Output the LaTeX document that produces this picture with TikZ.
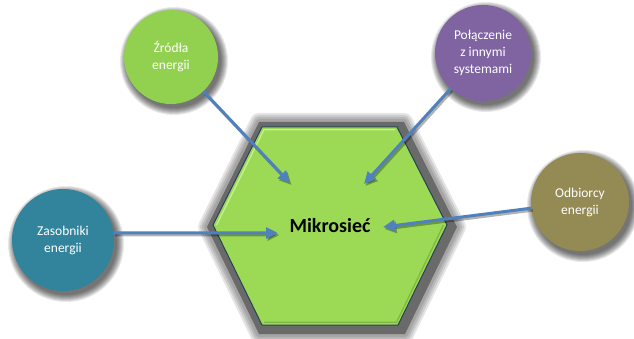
\documentclass[tikz,border=0pt]{standalone}
\usepackage{fontspec}
\setmainfont{Carlito}
\usetikzlibrary{arrows.meta}

\definecolor{hexgreen}{HTML}{9CDA56}
\definecolor{hexedge}{HTML}{26405A}
\definecolor{hexlight}{HTML}{C6EF96}
\definecolor{hexdark}{HTML}{7FB944}
\definecolor{srcgreen}{HTML}{92D050}
\definecolor{linkpurple}{HTML}{8064A2}
\definecolor{storeteal}{HTML}{31849B}
\definecolor{loadolive}{HTML}{948A54}
\definecolor{arrowblue}{HTML}{4F81BD}
\definecolor{hexshadow}{HTML}{6A6A6A}

\tikzset{
  bubble/.style={circle, inner sep=0pt, minimum size=#1, text=white, align=center,
    font=\fontsize{13.5}{17}\selectfont},
  flow/.style={draw=arrowblue, line width=3pt,
    -{Triangle[length=12pt,width=11pt]}},
  flowshadow/.style={draw=black, opacity=0.3, line width=3pt,
    -{Triangle[length=12pt,width=11pt]},
    transform canvas={xshift=1.5pt,yshift=-2pt}},
  hub/.style={font=\bfseries\fontsize{20}{24}\selectfont, text=black}
}

% blurred drop shadow behind a round bubble: x, y, radius
\newcommand\bubbleshadow[3]{%
  \foreach \k in {0,...,7}{%
    \fill[black, opacity=0.09] (#1+3,#2+4) circle[radius={(#3+7-\k)*1pt}];%
  }%
}

\begin{document}
\begin{tikzpicture}[x=1pt,y=-1pt]
\useasboundingbox (0,0) rectangle (634,339);
\fill[white] (0,0) rectangle (634,339);

% --- central hexagon with its soft shadow ---
\foreach \w in {18,14,10,6}{%
  \draw[black, opacity=0.1, line width=\w pt, line join=round]
    (207,227) -- (259,122) -- (404,122) -- (457,227) -- (405,334) -- (259,334) -- cycle;
}
\fill[hexshadow]
  (207,227) -- (259,122) -- (404,122) -- (457,227) -- (405,334) -- (259,334) -- cycle;

\filldraw[fill=hexgreen, draw=hexedge, line width=1pt, line join=miter]
  (213,225) -- (262,127) -- (397,127) -- (447,225) -- (398,325) -- (262,325) -- cycle;
% bevel highlights
\draw[hexlight, line width=1.3pt] (216.5,225) -- (264,129.7) -- (395,129.7);
\draw[hexdark, line width=1.3pt] (443.5,225) -- (396.5,322.3) -- (264,322.3);

\node[hub] (hub) at (330,226) {Mikrosieć};

% --- surrounding bubbles ---
\bubbleshadow{171}{57}{47}
\bubbleshadow{483}{53}{48}
\bubbleshadow{63}{240}{51}
\bubbleshadow{580}{202}{49}

\node[bubble=94pt, fill=srcgreen] (src) at (171,57) {Źródła\\energii};
\node[bubble=96pt, fill=linkpurple] (link) at (483,53) {Połączenie\\z innymi\\systemami};
\node[bubble=102pt, fill=storeteal] (store) at (63,240) {Zasobniki\\energii};
\node[bubble=98pt, fill=loadolive] (load) at (580,202) {Odbiorcy\\energii};

% --- arrow tips inside the hexagon ---
\coordinate (inSrc) at (290,183);
\coordinate (inLink) at (364,184);
\coordinate (inStore) at (278,233);
\coordinate (inLoad) at (383,227);

\draw[flowshadow] (src) -- (inSrc);
\draw[flowshadow] (link) -- (inLink);
\draw[flowshadow] (store.8) -- (inStore);
\draw[flowshadow] (load) -- (inLoad);

\draw[flow] (src) -- (inSrc);
\draw[flow] (link) -- (inLink);
\draw[flow] (store.8) -- (inStore);
\draw[flow] (load) -- (inLoad);
\end{tikzpicture}
\end{document}
